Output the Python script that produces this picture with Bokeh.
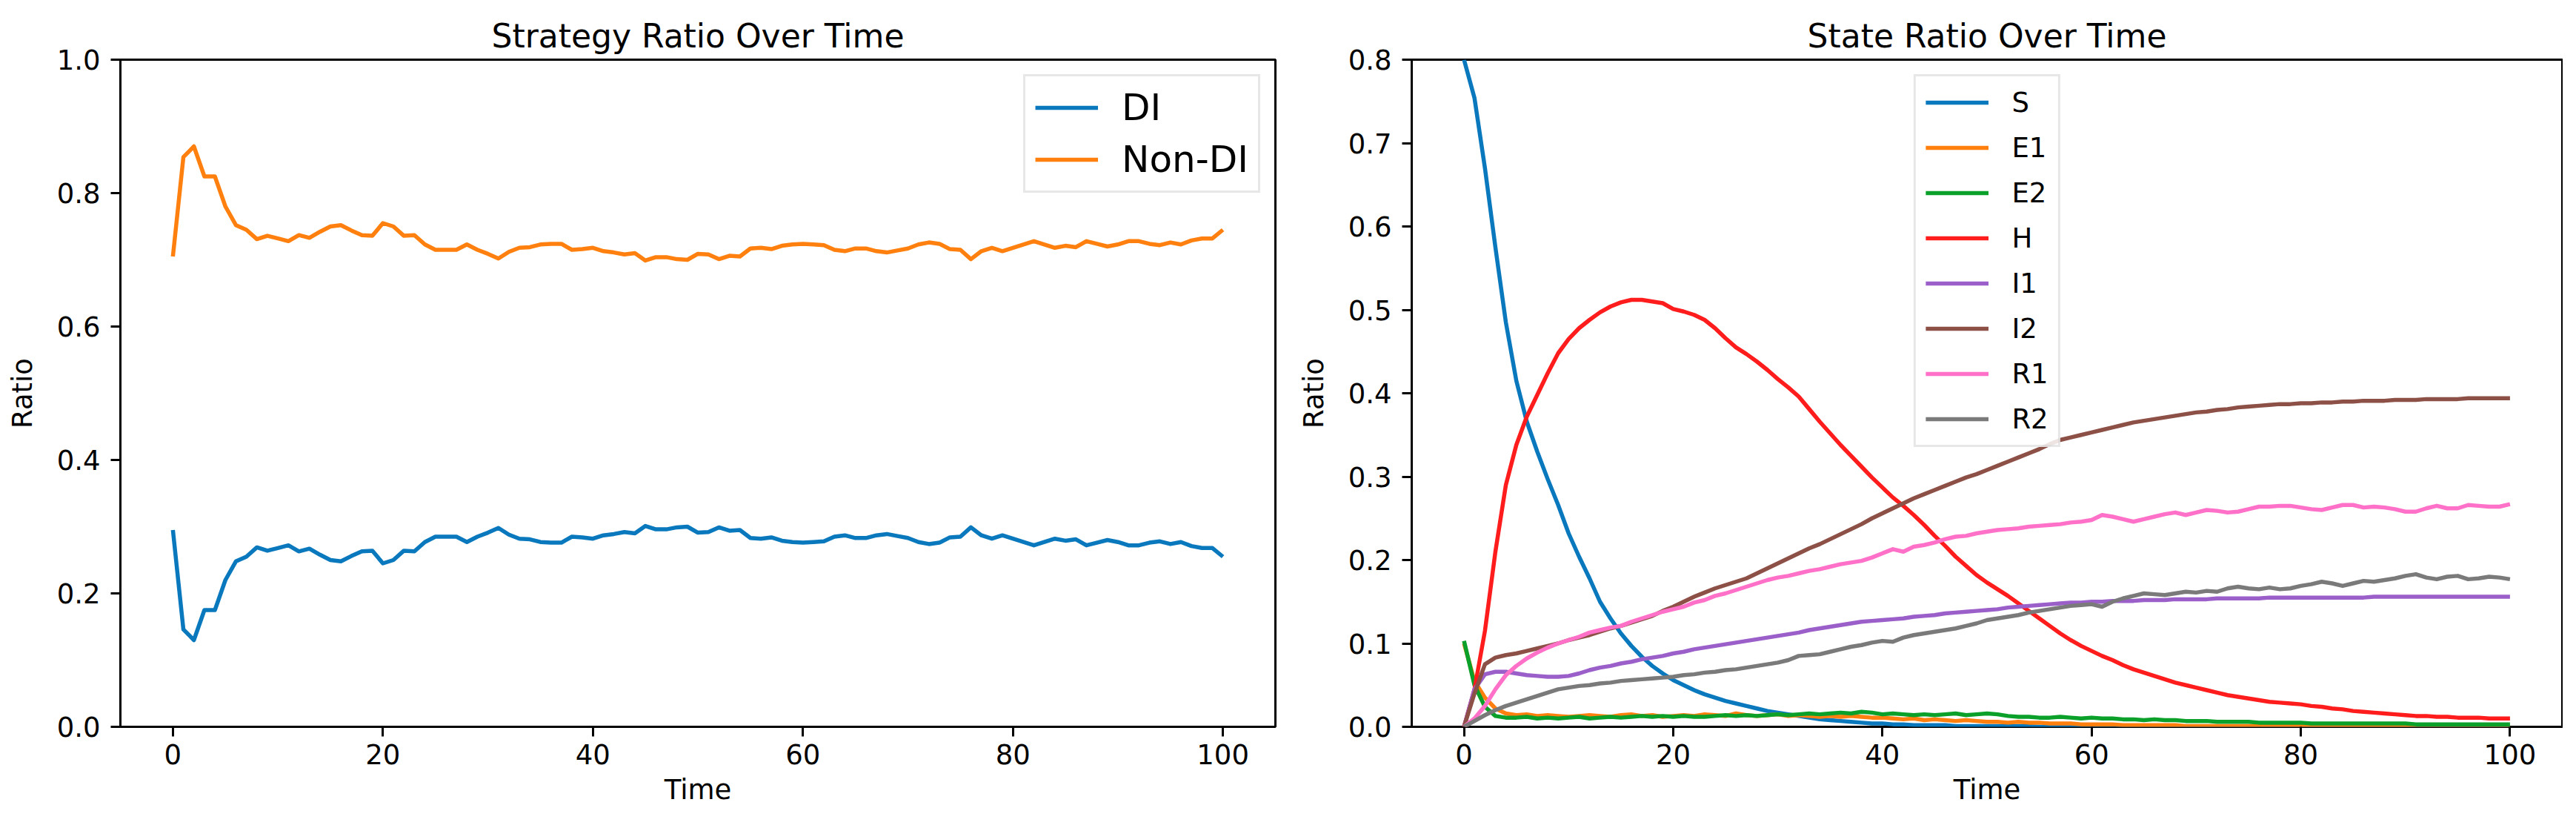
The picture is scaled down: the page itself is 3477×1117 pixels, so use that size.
from bokeh.plotting import figure
from bokeh.layouts import row
from bokeh.models import Range1d, FixedTicker, NumeralTickFormatter
from bokeh.embed import file_html
from bokeh.resources import INLINE

FONT = "DejaVu Sans"

time = list(range(101))

x_ticks = [0, 20, 40, 60, 80, 100]
left_y_ticks = [0.0, 0.2, 0.4, 0.6, 0.8, 1.0]
right_y_ticks = [0.0, 0.1, 0.2, 0.3, 0.4, 0.5, 0.6, 0.7, 0.8]

strategy_names = ["DI", "Non-DI"]
state_names = ["S", "E1", "E2", "H", "I1", "I2", "R1", "R2"]

di = [0.295, 0.146, 0.130, 0.175, 0.175, 0.220, 0.248, 0.255, 0.269, 0.264,
      0.268, 0.272, 0.263, 0.267, 0.258, 0.250, 0.248, 0.256, 0.263, 0.264,
      0.245, 0.250, 0.264, 0.263, 0.277, 0.285, 0.285, 0.285, 0.277, 0.285,
      0.291, 0.298, 0.288, 0.282, 0.281, 0.277, 0.276, 0.276, 0.285, 0.284,
      0.282, 0.287, 0.289, 0.292, 0.290, 0.301, 0.296, 0.296, 0.299, 0.300,
      0.291, 0.292, 0.299, 0.294, 0.295, 0.283, 0.282, 0.284, 0.279, 0.277,
      0.276, 0.277, 0.278, 0.285, 0.287, 0.283, 0.283, 0.287, 0.289, 0.286,
      0.283, 0.277, 0.274, 0.276, 0.284, 0.285, 0.299, 0.287, 0.282, 0.287,
      0.282, 0.277, 0.272, 0.277, 0.282, 0.279, 0.281, 0.272, 0.276, 0.280,
      0.277, 0.272, 0.272, 0.276, 0.278, 0.274, 0.277, 0.271, 0.268, 0.268,
      0.255]

non_di = [0.705, 0.854, 0.870, 0.825, 0.825, 0.780, 0.752, 0.745, 0.731, 0.736,
          0.732, 0.728, 0.737, 0.733, 0.742, 0.750, 0.752, 0.744, 0.737, 0.736,
          0.755, 0.750, 0.736, 0.737, 0.723, 0.715, 0.715, 0.715, 0.723, 0.715,
          0.709, 0.702, 0.712, 0.718, 0.719, 0.723, 0.724, 0.724, 0.715, 0.716,
          0.718, 0.713, 0.711, 0.708, 0.710, 0.699, 0.704, 0.704, 0.701, 0.700,
          0.709, 0.708, 0.701, 0.706, 0.705, 0.717, 0.718, 0.716, 0.721, 0.723,
          0.724, 0.723, 0.722, 0.715, 0.713, 0.717, 0.717, 0.713, 0.711, 0.714,
          0.717, 0.723, 0.726, 0.724, 0.716, 0.715, 0.701, 0.713, 0.718, 0.713,
          0.718, 0.723, 0.728, 0.723, 0.718, 0.721, 0.719, 0.728, 0.724, 0.720,
          0.723, 0.728, 0.728, 0.724, 0.722, 0.726, 0.723, 0.729, 0.732, 0.732,
          0.745]

s_vals = [0.800, 0.754, 0.670, 0.575, 0.485, 0.415, 0.366, 0.330, 0.297, 0.266,
          0.232, 0.204, 0.178, 0.150, 0.130, 0.112, 0.097, 0.084, 0.073, 0.064,
          0.056, 0.050, 0.044, 0.039, 0.035, 0.031, 0.028, 0.025, 0.022, 0.019,
          0.017, 0.015, 0.013, 0.011, 0.009, 0.008, 0.007, 0.006, 0.005, 0.004,
          0.004, 0.003, 0.003, 0.002, 0.002, 0.002, 0.002, 0.001, 0.001, 0.001,
          0.001, 0.001, 0.001, 0.001, 0.001, 0.000, 0.000, 0.000, 0.000, 0.000,
          0.000, 0.000, 0.000, 0.000, 0.000, 0.000, 0.000, 0.000, 0.000, 0.000,
          0.000, 0.000, 0.000, 0.000, 0.000, 0.000, 0.000, 0.000, 0.000, 0.000,
          0.000, 0.000, 0.000, 0.000, 0.000, 0.000, 0.000, 0.000, 0.000, 0.000,
          0.000, 0.000, 0.000, 0.000, 0.000, 0.000, 0.000, 0.000, 0.000, 0.000,
          0.000]

e1_vals = [0.100, 0.055, 0.035, 0.022, 0.016, 0.014, 0.015, 0.013, 0.014, 0.013,
           0.012, 0.013, 0.014, 0.013, 0.012, 0.014, 0.015, 0.013, 0.014, 0.012,
           0.013, 0.014, 0.013, 0.015, 0.014, 0.013, 0.016, 0.014, 0.013, 0.014,
           0.015, 0.013, 0.014, 0.013, 0.012, 0.013, 0.012, 0.013, 0.012, 0.011,
           0.011, 0.010, 0.009, 0.010, 0.008, 0.009, 0.008, 0.007, 0.008, 0.007,
           0.006, 0.006, 0.005, 0.006, 0.005, 0.005, 0.004, 0.004, 0.004, 0.003,
           0.003, 0.003, 0.003, 0.002, 0.002, 0.002, 0.002, 0.002, 0.002, 0.001,
           0.001, 0.001, 0.001, 0.001, 0.001, 0.001, 0.001, 0.001, 0.001, 0.001,
           0.001, 0.001, 0.001, 0.001, 0.001, 0.001, 0.000, 0.000, 0.000, 0.000,
           0.000, 0.000, 0.000, 0.000, 0.000, 0.000, 0.000, 0.000, 0.000, 0.000,
           0.000]

e2_vals = [0.103, 0.050, 0.024, 0.013, 0.011, 0.011, 0.012, 0.010, 0.011, 0.010,
           0.011, 0.012, 0.010, 0.011, 0.012, 0.011, 0.012, 0.013, 0.012, 0.013,
           0.012, 0.013, 0.012, 0.012, 0.013, 0.014, 0.013, 0.014, 0.013, 0.014,
           0.015, 0.014, 0.015, 0.016, 0.015, 0.016, 0.017, 0.016, 0.018, 0.017,
           0.015, 0.016, 0.015, 0.014, 0.015, 0.014, 0.015, 0.016, 0.014, 0.015,
           0.016, 0.015, 0.013, 0.012, 0.012, 0.011, 0.011, 0.012, 0.011, 0.010,
           0.011, 0.010, 0.010, 0.009, 0.009, 0.008, 0.009, 0.008, 0.008, 0.007,
           0.007, 0.007, 0.006, 0.006, 0.006, 0.006, 0.005, 0.005, 0.005, 0.005,
           0.005, 0.004, 0.004, 0.004, 0.004, 0.004, 0.004, 0.004, 0.004, 0.004,
           0.004, 0.003, 0.003, 0.003, 0.003, 0.003, 0.003, 0.003, 0.003, 0.003,
           0.003]

h_vals = [0.000, 0.045, 0.115, 0.210, 0.290, 0.338, 0.372, 0.398, 0.424, 0.448,
          0.465, 0.478, 0.488, 0.497, 0.504, 0.509, 0.512, 0.512, 0.510, 0.508,
          0.501, 0.498, 0.494, 0.488, 0.478, 0.466, 0.455, 0.447, 0.438, 0.428,
          0.417, 0.407, 0.396, 0.381, 0.366, 0.352, 0.338, 0.325, 0.312, 0.299,
          0.287, 0.275, 0.265, 0.254, 0.242, 0.229, 0.217, 0.204, 0.193, 0.182,
          0.173, 0.165, 0.157, 0.148, 0.139, 0.130, 0.121, 0.112, 0.104, 0.097,
          0.091, 0.085, 0.080, 0.074, 0.069, 0.065, 0.061, 0.057, 0.053, 0.050,
          0.047, 0.044, 0.041, 0.038, 0.036, 0.034, 0.032, 0.030, 0.029, 0.028,
          0.027, 0.025, 0.024, 0.022, 0.021, 0.019, 0.018, 0.017, 0.016, 0.015,
          0.014, 0.013, 0.013, 0.012, 0.012, 0.011, 0.011, 0.011, 0.010, 0.010,
          0.010]

i1_vals = [0.000, 0.045, 0.063, 0.066, 0.066, 0.064, 0.062, 0.061, 0.060, 0.060,
           0.061, 0.064, 0.068, 0.071, 0.073, 0.076, 0.078, 0.081, 0.083, 0.085,
           0.088, 0.090, 0.093, 0.095, 0.097, 0.099, 0.101, 0.103, 0.105, 0.107,
           0.109, 0.111, 0.113, 0.116, 0.118, 0.120, 0.122, 0.124, 0.126, 0.127,
           0.128, 0.129, 0.130, 0.132, 0.133, 0.134, 0.136, 0.137, 0.138, 0.139,
           0.140, 0.141, 0.143, 0.144, 0.145, 0.146, 0.147, 0.148, 0.149, 0.149,
           0.150, 0.150, 0.151, 0.151, 0.151, 0.152, 0.152, 0.152, 0.153, 0.153,
           0.153, 0.153, 0.154, 0.154, 0.154, 0.154, 0.154, 0.155, 0.155, 0.155,
           0.155, 0.155, 0.155, 0.155, 0.155, 0.155, 0.155, 0.156, 0.156, 0.156,
           0.156, 0.156, 0.156, 0.156, 0.156, 0.156, 0.156, 0.156, 0.156, 0.156,
           0.156]

i2_vals = [0.000, 0.040, 0.075, 0.083, 0.086, 0.088, 0.091, 0.094, 0.097, 0.100,
           0.104, 0.107, 0.110, 0.114, 0.118, 0.121, 0.125, 0.129, 0.133, 0.139,
           0.144, 0.150, 0.156, 0.161, 0.166, 0.170, 0.174, 0.178, 0.184, 0.190,
           0.196, 0.202, 0.208, 0.214, 0.219, 0.225, 0.231, 0.237, 0.243, 0.250,
           0.256, 0.262, 0.268, 0.274, 0.279, 0.284, 0.289, 0.294, 0.299, 0.303,
           0.308, 0.313, 0.318, 0.323, 0.328, 0.333, 0.339, 0.344, 0.347, 0.350,
           0.353, 0.356, 0.359, 0.362, 0.365, 0.367, 0.369, 0.371, 0.373, 0.375,
           0.377, 0.378, 0.380, 0.381, 0.383, 0.384, 0.385, 0.386, 0.387, 0.387,
           0.388, 0.388, 0.389, 0.389, 0.390, 0.390, 0.391, 0.391, 0.391, 0.392,
           0.392, 0.392, 0.393, 0.393, 0.393, 0.393, 0.394, 0.394, 0.394, 0.394,
           0.394]

r1_vals = [0.000, 0.010, 0.025, 0.045, 0.062, 0.073, 0.082, 0.089, 0.095, 0.100,
           0.104, 0.108, 0.113, 0.116, 0.119, 0.121, 0.126, 0.130, 0.134, 0.138,
           0.141, 0.144, 0.149, 0.152, 0.157, 0.160, 0.164, 0.168, 0.172, 0.176,
           0.179, 0.181, 0.184, 0.187, 0.189, 0.192, 0.195, 0.197, 0.199, 0.203,
           0.208, 0.213, 0.210, 0.216, 0.218, 0.221, 0.225, 0.228, 0.229, 0.232,
           0.234, 0.236, 0.237, 0.238, 0.240, 0.241, 0.242, 0.243, 0.245, 0.246,
           0.248, 0.254, 0.252, 0.249, 0.246, 0.249, 0.252, 0.255, 0.257, 0.254,
           0.257, 0.260, 0.259, 0.257, 0.258, 0.261, 0.264, 0.264, 0.265, 0.265,
           0.263, 0.261, 0.260, 0.263, 0.266, 0.266, 0.263, 0.264, 0.263, 0.261,
           0.258, 0.258, 0.262, 0.265, 0.262, 0.262, 0.266, 0.265, 0.264, 0.264,
           0.267]

r2_vals = [0.000, 0.007, 0.014, 0.020, 0.025, 0.029, 0.033, 0.037, 0.041, 0.045,
           0.047, 0.049, 0.050, 0.052, 0.053, 0.055, 0.056, 0.057, 0.058, 0.059,
           0.060, 0.062, 0.063, 0.065, 0.066, 0.068, 0.069, 0.071, 0.073, 0.075,
           0.077, 0.080, 0.085, 0.086, 0.087, 0.090, 0.093, 0.096, 0.098, 0.101,
           0.103, 0.102, 0.107, 0.110, 0.112, 0.114, 0.116, 0.118, 0.121, 0.124,
           0.128, 0.130, 0.132, 0.134, 0.137, 0.139, 0.141, 0.143, 0.145, 0.146,
           0.147, 0.144, 0.150, 0.154, 0.157, 0.160, 0.159, 0.158, 0.160, 0.162,
           0.161, 0.163, 0.162, 0.166, 0.168, 0.166, 0.165, 0.167, 0.165, 0.166,
           0.169, 0.171, 0.174, 0.172, 0.169, 0.172, 0.175, 0.174, 0.176, 0.178,
           0.181, 0.183, 0.179, 0.177, 0.180, 0.181, 0.177, 0.178, 0.180, 0.179,
           0.177]

strategy_series = [di, non_di]
state_series = [s_vals, e1_vals, e2_vals, h_vals, i1_vals, i2_vals, r1_vals, r2_vals]

strategy_colors = ["#0a78bd", "#ff800e"]
state_colors = ["#0a78bd", "#ff800e", "#0aa02a", "#ff1c1c",
                "#9b5fc9", "#8c5046", "#ff70c8", "#7a7a7a"]

LINE_W = 5.5


def make_fig(title, width, border_left, border_right, y_max, y_ticks):
    p = figure(width=width, height=1101, output_backend="svg", toolbar_location=None,
               x_range=Range1d(-5, 105), y_range=Range1d(0, y_max),
               min_border_left=border_left, min_border_right=border_right,
               min_border_top=80, min_border_bottom=121)
    p.title.text = title
    p.title.text_font = FONT
    p.title.text_font_size = "44px"
    p.title.text_font_style = "normal"
    p.title.align = "center"
    p.title.text_color = "#000000"
    p.title.standoff = 14
    p.background_fill_color = "white"
    p.border_fill_color = "white"
    p.outline_line_color = "black"
    p.outline_line_width = 3
    p.outline_line_alpha = 1.0
    p.grid.visible = False
    for ax in (p.xaxis[0], p.yaxis[0]):
        ax.axis_line_color = None
        ax.major_tick_line_color = "black"
        ax.major_tick_line_width = 3
        ax.major_tick_in = 0
        ax.major_tick_out = 13
        ax.minor_tick_line_color = None
        ax.major_label_text_font = FONT
        ax.major_label_text_font_size = "37px"
        ax.major_label_text_color = "#000000"
        ax.axis_label_text_font = FONT
        ax.axis_label_text_font_size = "37px"
        ax.axis_label_text_font_style = "normal"
        ax.axis_label_text_color = "#000000"
    p.xaxis.ticker = FixedTicker(ticks=x_ticks)
    p.xaxis.formatter = NumeralTickFormatter(format="0")
    p.xaxis.major_label_standoff = 10
    p.xaxis.axis_label = "Time"
    p.xaxis.axis_label_standoff = 10
    p.yaxis.ticker = FixedTicker(ticks=y_ticks)
    p.yaxis.formatter = NumeralTickFormatter(format="0.0")
    p.yaxis.major_label_standoff = 14
    p.yaxis.axis_label = "Ratio"
    p.yaxis.axis_label_standoff = 22
    return p


p1 = make_fig("Strategy Ratio Over Time", 1732, 162, 11, 1.0, left_y_ticks)
for name, vals, col in zip(strategy_names, strategy_series, strategy_colors):
    p1.line(time, vals, line_color=col, line_width=LINE_W, legend_label=name,
            line_join="round")

p2 = make_fig("State Ratio Over Time", 1727, 173, 1, 0.8, right_y_ticks)
for name, vals, col in zip(state_names, state_series, state_colors):
    p2.line(time, vals, line_color=col, line_width=LINE_W, legend_label=name,
            line_join="round")

for p, loc, fs, lh, sp in ((p1, "top_right", "50px", 50, 12),
                           (p2, "top_center", "37px", 44, 17)):
    lg = p.legend[0]
    lg.location = loc
    lg.margin = 20
    lg.padding = 13
    lg.label_text_font = FONT
    lg.label_text_font_size = fs
    lg.label_text_color = "#000000"
    lg.label_height = lh
    lg.glyph_height = lh
    lg.glyph_width = 85
    lg.label_standoff = 32
    lg.spacing = sp
    lg.border_line_color = "#d0d0d0"
    lg.border_line_width = 3
    lg.background_fill_color = "white"
    lg.background_fill_alpha = 0.85

layout = row(p1, p2)
open("out.html", "w").write(file_html(layout, INLINE))
